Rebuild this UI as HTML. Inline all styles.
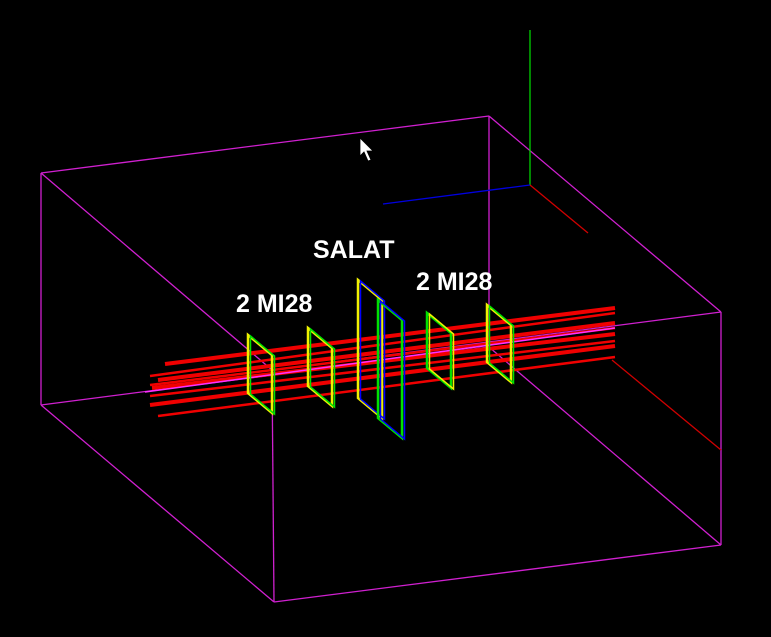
<!DOCTYPE html>
<html><head><meta charset="utf-8"><style>
html,body{margin:0;padding:0;background:#000;width:771px;height:637px;overflow:hidden}
svg{display:block}
text{font-family:"Liberation Sans",sans-serif;font-weight:bold;fill:#fff}
</style></head><body>
<svg id="scene" width="771" height="637" viewBox="0 0 771 637" xmlns="http://www.w3.org/2000/svg">
<rect width="771" height="637" fill="#000"/>
<g id="box" stroke="#d020d0" stroke-width="1.3" fill="none"></g>
<g>
<line x1="530" y1="30" x2="530" y2="185" stroke="#00d000" stroke-width="1.3"/>
<line x1="383" y1="204" x2="530" y2="185" stroke="#0000e0" stroke-width="1.3"/>
<line x1="530" y1="185" x2="588" y2="233" stroke="#d00000" stroke-width="1.3"/>
</g>
<line x1="612" y1="360" x2="721" y2="450" stroke="#d00000" stroke-width="1.3"/>
<g id="beams"></g>
<g id="frames"></g>
<text x="313" y="258" font-size="25">SALAT</text>
<text x="236" y="312" font-size="25">2 MI28</text>
<text x="416" y="290" font-size="25">2 MI28</text>
<path d="M360 138 L360 156 L364 152 L368 161 L371 160 L367 151 L373 151 Z" fill="#fff" stroke="#000" stroke-width="0.8"/>
</svg>
<script>
const boxEdges=[[41,173,489,116],[489,116,721,312],[41,173,41,405],[41,405,274,602],[274,602,721,545],[721,312,721,545],[41,173,272,370],[272,370,721,312],[272,370,274,602],[41,405,489,347],[489,116,489,347],[489,347,721,545]];
const beamLeftY=[364,376,380,385,388,396,405,416];
const beamRightY=[308,313,323,328,334,341,346,357];
const beamLeftX=[165,150,158,150,152,150,150,158];
const frameLeftX=[248,308,358,378,427,487];
const frameTopY=[335,328,280,300,313,305];
const frameHeight=[58,58,118,118,55,57];
const frameColors=['#f0f000','#f0f000','#f0f000','#00e000','#00e000','#f0f000'];
const ns='http://www.w3.org/2000/svg';
const box=document.getElementById('box');
boxEdges.forEach(e=>{const l=document.createElementNS(ns,'line');
l.setAttribute('x1',e[0]);l.setAttribute('y1',e[1]);l.setAttribute('x2',e[2]);l.setAttribute('y2',e[3]);


box.appendChild(l);});
const beams=document.getElementById('beams');
beamLeftY.forEach((y,i)=>{const l=document.createElementNS(ns,'line');
l.setAttribute('x1',beamLeftX[i]);l.setAttribute('y1',y);l.setAttribute('x2',615);l.setAttribute('y2',beamRightY[i]);
l.setAttribute('stroke','#f00000');l.setAttribute('stroke-width',(i%2)?2.5:4);


beams.appendChild(l);});
const ml=document.createElementNS(ns,'line');
ml.setAttribute('x1',145);ml.setAttribute('y1',392);ml.setAttribute('x2',615);ml.setAttribute('y2',328);ml.setAttribute('stroke','#ff30ff');ml.setAttribute('stroke-width',1.5);


beams.appendChild(ml);
const frames=document.getElementById('frames');
frameLeftX.forEach((x,i)=>{const y=frameTopY[i],h=frameHeight[i],dx=24,dy=20;
const p=document.createElementNS(ns,'polygon');
p.setAttribute('points',`${x},${y} ${x+dx},${y+dy} ${x+dx},${y+dy+h} ${x},${y+h}`);
p.setAttribute('fill','none');p.setAttribute('stroke',frameColors[i]);p.setAttribute('stroke-width',2.5);


frames.appendChild(p);
const q=document.createElementNS(ns,'polygon');
q.setAttribute('points',`${x+2.5},${y+1} ${x+dx+2.5},${y+dy+1} ${x+dx+2.5},${y+dy+h+1} ${x+2.5},${y+h+1}`);
q.setAttribute('fill','none');q.setAttribute('stroke',(i==2||i==3)?'#0000ff':(frameColors[i]=='#00e000'?'#f0f000':'#00e000'));q.setAttribute('stroke-width',1.5);


frames.appendChild(q);});
</script>
</body></html>
